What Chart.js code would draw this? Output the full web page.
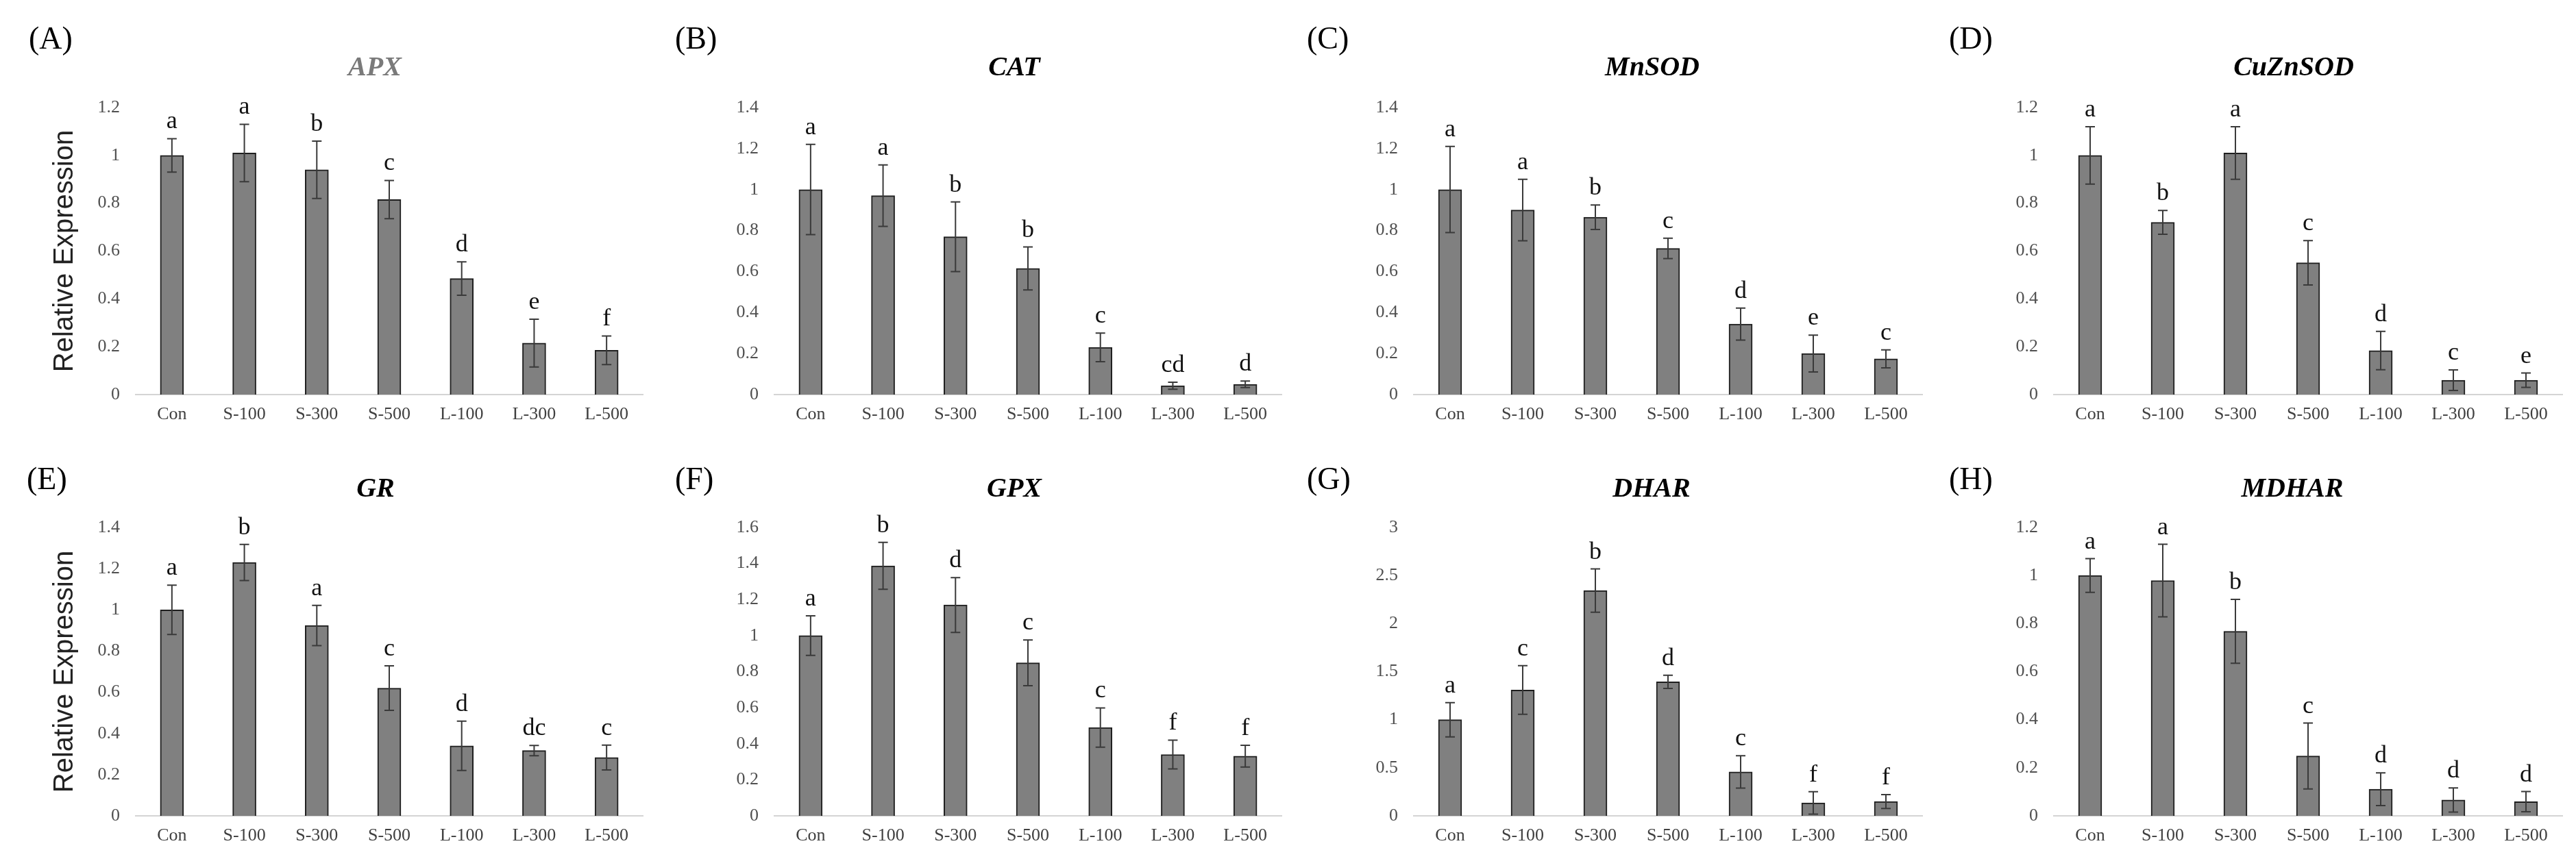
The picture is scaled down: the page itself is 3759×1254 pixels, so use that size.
<!DOCTYPE html>
<html>
<head>
<meta charset="utf-8">
<script src="https://cdn.jsdelivr.net/npm/chart.js@4.4.1/dist/chart.umd.min.js"></script>
<style>
  html, body { margin: 0; padding: 0; background: #fff; }
  body { width: 3759px; height: 1254px; position: relative; overflow: hidden; }
  .panel { position: absolute; }
</style>
</head>
<body>
<script>
// treatments on the x axis
const categories = ['Con', 'S-100', 'S-300', 'S-500', 'L-100', 'L-300', 'L-500'];
const genes = ['APX', 'CAT', 'MnSOD', 'CuZnSOD', 'GR', 'GPX', 'DHAR', 'MDHAR'];
const panelTags = ['(A)', '(B)', '(C)', '(D)', '(E)', '(F)', '(G)', '(H)'];

// relative expression (mean), error and significance letters per gene
const apxMean = [1.00, 1.01, 0.94, 0.815, 0.485, 0.215, 0.185];
const apxErr = [0.07, 0.12, 0.12, 0.08, 0.07, 0.10, 0.06];
const apxLetters = ['a', 'a', 'b', 'c', 'd', 'e', 'f'];

const catMean = [1.00, 0.97, 0.77, 0.615, 0.23, 0.043, 0.05];
const catErr = [0.22, 0.15, 0.17, 0.105, 0.07, 0.017, 0.016];
const catLetters = ['a', 'a', 'b', 'b', 'c', 'cd', 'd'];

const mnsodMean = [1.00, 0.90, 0.865, 0.713, 0.344, 0.20, 0.174];
const mnsodErr = [0.21, 0.15, 0.06, 0.05, 0.078, 0.09, 0.044];
const mnsodLetters = ['a', 'a', 'b', 'c', 'd', 'e', 'c'];

const cuznsodMean = [1.00, 0.72, 1.01, 0.551, 0.184, 0.06, 0.06];
const cuznsodErr = [0.12, 0.05, 0.11, 0.093, 0.08, 0.043, 0.03];
const cuznsodLetters = ['a', 'b', 'a', 'c', 'd', 'c', 'e'];

const grMean = [1.00, 1.23, 0.924, 0.62, 0.34, 0.317, 0.283];
const grErr = [0.12, 0.088, 0.098, 0.108, 0.12, 0.025, 0.06];
const grLetters = ['a', 'b', 'a', 'c', 'd', 'dc', 'c'];

const gpxMean = [1.00, 1.387, 1.17, 0.849, 0.49, 0.34, 0.331];
const gpxErr = [0.11, 0.13, 0.152, 0.127, 0.109, 0.08, 0.06];
const gpxLetters = ['a', 'b', 'd', 'c', 'c', 'f', 'f'];

const dharMean = [1.00, 1.309, 2.343, 1.394, 0.457, 0.134, 0.149];
const dharErr = [0.178, 0.253, 0.225, 0.068, 0.168, 0.117, 0.072];
const dharLetters = ['a', 'c', 'b', 'd', 'c', 'f', 'f'];

const mdharMean = [1.00, 0.979, 0.768, 0.249, 0.111, 0.066, 0.059];
const mdharErr = [0.07, 0.151, 0.133, 0.137, 0.068, 0.05, 0.042];
const mdharLetters = ['a', 'a', 'b', 'c', 'd', 'd', 'd'];

// y axis range and tick step per panel
const yMax = [1.2, 1.4, 1.4, 1.2, 1.4, 1.6, 3, 1.2];
const yStep = [0.2, 0.2, 0.2, 0.2, 0.2, 0.2, 0.5, 0.2];

const allMeans = [apxMean, catMean, mnsodMean, cuznsodMean, grMean, gpxMean, dharMean, mdharMean];
const allErrs = [apxErr, catErr, mnsodErr, cuznsodErr, grErr, gpxErr, dharErr, mdharErr];
const allLetters = [apxLetters, catLetters, mnsodLetters, cuznsodLetters, grLetters, gpxLetters, dharLetters, mdharLetters];

// page layout (pixels)
const colX = [0, 940, 1880, 2820];
const colW = [940, 940, 940, 939];
const plotLeft = [198, 1130, 2063, 2997];
const plotRight = [938, 1870, 2805, 3739];
const rowY = [0, 627];
const plotTop = [157, 770];
const plotBottom = [576, 1191];
const tagX = [42, 985, 1907, 2844, 39, 985, 1907, 2844];
const tagBase = [71, 714];
const titleX = [547, 1480, 2411, 3347, 548, 1480, 2410, 3345];
const titleBase = [110, 725];
const titleColors = ['#7a7a7a', '#000', '#000', '#000', '#000', '#000', '#000', '#000'];

const SERIF = '"Liberation Serif", "Times New Roman", serif';

genes.forEach(function (gene, k) {
    const col = k % 4, row = Math.floor(k / 4);
    const left = colX[col], top = rowY[row], w = colW[col], h = 627;

    const box = document.createElement('div');
    box.className = 'panel';
    box.style.left = left + 'px';
    box.style.top = top + 'px';
    box.style.width = w + 'px';
    box.style.height = h + 'px';
    const cv = document.createElement('canvas');
    box.appendChild(cv);
    document.body.appendChild(box);

    const means = allMeans[k], errs = allErrs[k], letters = allLetters[k];

    // error bars, letters, panel tag and gene name
    const annot = {
        id: 'annot' + k,
        afterDatasetsDraw(chart) {
            const ctx = chart.ctx;
            const meta = chart.getDatasetMeta(0);
            const ys = chart.scales.y;
            ctx.save();
            ctx.strokeStyle = '#3a3a3a';
            ctx.lineWidth = 2;
            means.forEach(function (m, i) {
                const x = meta.data[i].x;
                const yHi = ys.getPixelForValue(m + errs[i]);
                const yLo = ys.getPixelForValue(Math.max(0, m - errs[i]));
                ctx.beginPath();
                ctx.moveTo(x, yHi); ctx.lineTo(x, yLo);
                ctx.moveTo(x - 7, yHi); ctx.lineTo(x + 7, yHi);
                ctx.moveTo(x - 7, yLo); ctx.lineTo(x + 7, yLo);
                ctx.stroke();
                ctx.fillStyle = '#111';
                ctx.font = '36px ' + SERIF;
                ctx.textAlign = 'center';
                ctx.textBaseline = 'alphabetic';
                ctx.fillText(letters[i], x, yHi - 15);
            });
            ctx.restore();
        },
        afterDraw(chart) {
            const ctx = chart.ctx;
            ctx.save();
            ctx.textBaseline = 'alphabetic';
            ctx.fillStyle = '#000';
            ctx.font = '46px ' + SERIF;
            ctx.textAlign = 'left';
            ctx.fillText(panelTags[k], tagX[k] - left, tagBase[row] - top);
            ctx.fillStyle = titleColors[k];
            ctx.font = 'italic bold 40px ' + SERIF;
            ctx.textAlign = 'center';
            ctx.fillText(gene, titleX[k] - left, titleBase[row] - top);
            ctx.restore();
        }
    };

    new Chart(cv, {
        type: 'bar',
        data: {
            labels: categories,
            datasets: [{
                data: means,
                backgroundColor: '#808080',
                borderColor: '#1e1e1e',
                borderWidth: 2,
                borderSkipped: 'start',
                barThickness: 34
            }]
        },
        options: {
            responsive: true,
            maintainAspectRatio: false,
            animation: false,
            layout: {
                padding: { top: plotTop[row] - top, right: left + w - plotRight[col], left: 0, bottom: 0 }
            },
            plugins: {
                legend: { display: false },
                tooltip: { enabled: false },
                title: { display: false }
            },
            scales: {
                x: {
                    grid: { display: false, drawTicks: false },
                    border: { display: true, color: '#d4d4d4', width: 2 },
                    ticks: {
                        color: '#404040',
                        font: { family: SERIF, size: 26 },
                        padding: 14,
                        maxRotation: 0,
                        autoSkip: false
                    },
                    afterFit(s) { s.height = top + h - plotBottom[row]; }
                },
                y: {
                    min: 0,
                    max: yMax[k],
                    grid: { display: false, drawTicks: false },
                    border: { display: false },
                    ticks: {
                        stepSize: yStep[k],
                        color: '#505050',
                        font: { family: SERIF, size: 26 },
                        padding: 23,
                        callback: function (v) { return String(+v.toFixed(1)); }
                    },
                    title: {
                        display: col === 0,
                        text: 'Relative Expression',
                        color: '#222',
                        font: { family: '"Liberation Sans", Arial, sans-serif', size: 40 },
                        padding: { top: 71, bottom: 0 }
                    },
                    afterFit(s) { s.width = plotLeft[col] - left; }
                }
            }
        },
        plugins: [annot]
    });
});
</script>
</body>
</html>
